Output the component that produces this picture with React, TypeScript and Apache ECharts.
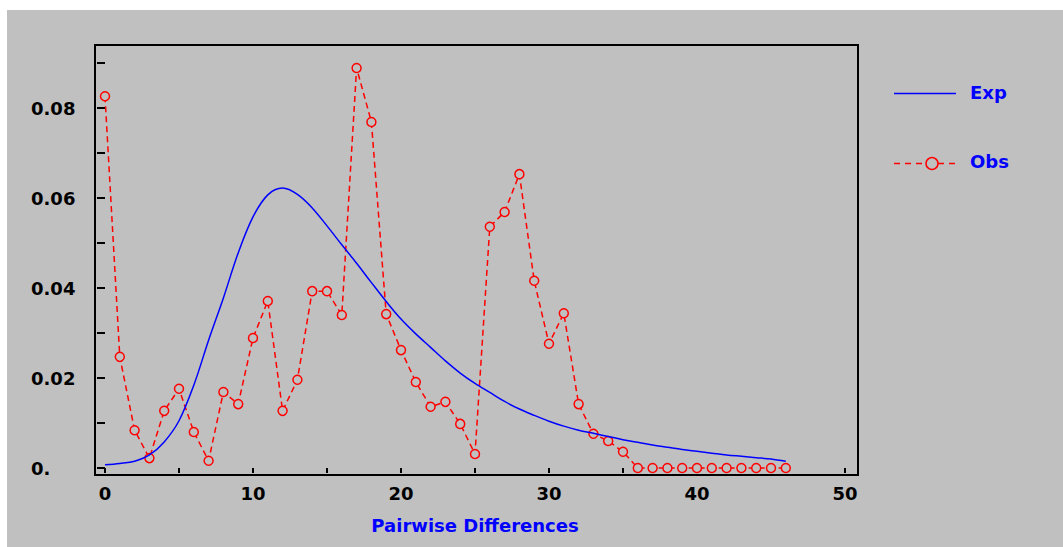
import React, { useEffect, useRef } from "react";
import * as echarts from "echarts";

const pairwiseDiffs = [
  0, 1, 2, 3, 4, 5, 6, 7, 8, 9, 10, 11, 12, 13, 14, 15, 16, 17, 18, 19, 20, 21, 22, 23,
  24, 25, 26, 27, 28, 29, 30, 31, 32, 33, 34, 35, 36, 37, 38, 39, 40, 41, 42, 43, 44, 45, 46,
];

const expValues = [
  0.0007, 0.001, 0.0015, 0.0029, 0.0058, 0.0105, 0.0184, 0.0284, 0.0378, 0.0478, 0.0558,
  0.0607, 0.0622, 0.0608, 0.0578, 0.0538, 0.0496, 0.0455, 0.0412, 0.037, 0.0331, 0.0298,
  0.0268, 0.0238, 0.0211, 0.0188, 0.0168, 0.0148, 0.0131, 0.0117, 0.0104, 0.0093, 0.0084,
  0.0077, 0.007, 0.0063, 0.0057, 0.0051, 0.0046, 0.0041, 0.0037, 0.0033, 0.0029, 0.0026,
  0.0023, 0.002, 0.0015,
];

const obsValues = [
  0.0826, 0.0247, 0.0084, 0.0022, 0.0127, 0.0176, 0.008, 0.0016, 0.0169, 0.0142, 0.0289,
  0.0371, 0.0127, 0.0196, 0.0393, 0.0393, 0.034, 0.0889, 0.0769, 0.0342, 0.0262, 0.0191,
  0.0136, 0.0147, 0.0098, 0.0031, 0.0536, 0.0569, 0.0653, 0.0416, 0.0276, 0.0344, 0.0142,
  0.0076, 0.006, 0.0036, 0, 0, 0, 0, 0, 0, 0, 0, 0, 0, 0,
];

const xAxisLabels = ["0", "10", "20", "30", "40", "50"];
const yAxisLabels = ["0.", "0.02", "0.04", "0.06", "0.08"];

const FONT = "DejaVu Sans";

export default function App() {
  const ref = useRef<HTMLDivElement>(null);

  useEffect(() => {
    if (!ref.current) return;
    const chart = echarts.init(ref.current, null, { renderer: "svg" });

    const expData = pairwiseDiffs.map((x, i) => [x, expValues[i]]);
    const obsData = pairwiseDiffs.map((x, i) => [x, obsValues[i]]);

    chart.setOption({
      animation: false,
      backgroundColor: "transparent",
      grid: { left: 105, right: 218, top: 63, bottom: 79, containLabel: false },
      xAxis: {
        type: "value",
        min: 0,
        max: 50,
        interval: 5,
        offset: 7,
        axisLine: { show: false },
        axisTick: { show: true, length: 5, lineStyle: { color: "#000", width: 2 } },
        splitLine: { show: false },
        axisLabel: {
          margin: 9,
          color: "#000",
          fontFamily: FONT,
          fontWeight: "bold",
          fontSize: 18,
          formatter: (v: number) => {
            const idx = xAxisLabels.indexOf(String(Math.round(v)));
            return Math.round(v) % 10 === 0 && idx >= 0 ? xAxisLabels[idx] : "";
          },
        },
        name: "Pairwise Differences",
        nameLocation: "middle",
        nameGap: 41,
        nameTextStyle: { color: "#0000ff", fontFamily: FONT, fontWeight: "bold", fontSize: 18 },
      },
      yAxis: {
        type: "value",
        min: 0,
        max: 0.09,
        interval: 0.01,
        offset: 10,
        axisLine: { show: false },
        axisTick: { show: true, length: 8, lineStyle: { color: "#000", width: 2 } },
        splitLine: { show: false },
        axisLabel: {
          margin: 64,
          align: "left",
          color: "#000",
          fontFamily: FONT,
          fontWeight: "bold",
          fontSize: 18,
          formatter: (v: number) => {
            const n = Math.round(v * 100);
            if (n % 2 !== 0) return "";
            return yAxisLabels[n / 2] ?? "";
          },
        },
      },
      graphic: [
        {
          type: "rect",
          shape: { x: 95, y: 45, width: 763, height: 430 },
          style: { fill: "none", stroke: "#000", lineWidth: 2 },
          silent: true,
        },
        {
          type: "line",
          shape: { x1: 894, y1: 93.5, x2: 956, y2: 93.5 },
          style: { stroke: "#0000ff", lineWidth: 1.5 },
        },
        {
          type: "text",
          x: 970,
          y: 92,
          style: {
            text: "Exp",
            fill: "#0000ff",
            font: `bold 18px "${FONT}"`,
            verticalAlign: "middle",
            align: "left",
          },
        },
        {
          type: "line",
          shape: { x1: 894, y1: 163.5, x2: 956, y2: 163.5 },
          style: { stroke: "#ff0000", lineWidth: 1.5, lineDash: [6, 5] },
        },
        {
          type: "circle",
          shape: { cx: 932, cy: 163.5, r: 6 },
          style: { fill: "#c0c0c0", stroke: "#ff0000", lineWidth: 1.5 },
        },
        {
          type: "text",
          x: 970,
          y: 161,
          style: {
            text: "Obs",
            fill: "#0000ff",
            font: `bold 18px "${FONT}"`,
            verticalAlign: "middle",
            align: "left",
          },
        },
      ],
      series: [
        {
          name: "Obs",
          type: "line",
          data: obsData,
          clip: false,
          symbol: "circle",
          symbolSize: 9,
          lineStyle: { color: "#ff0000", width: 1.5, type: [6, 4] },
          itemStyle: { color: "#c0c0c0", borderColor: "#ff0000", borderWidth: 1.5 },
          z: 2,
        },
        {
          name: "Exp",
          type: "line",
          data: expData,
          clip: false,
          symbol: "none",
          smooth: 0.35,
          lineStyle: { color: "#0000ff", width: 1.5 },
          z: 3,
        },
      ],
    });

    return () => chart.dispose();
  }, []);

  return (
    <div style={{ position: "absolute", left: 0, top: 0, width: 1063, height: 547, background: "#fff" }}>
      <div
        style={{ position: "absolute", left: 7, top: 10, width: 1056, height: 537, background: "#c0c0c0" }}
      />
      <div ref={ref} style={{ position: "absolute", left: 0, top: 0, width: 1063, height: 547 }} />
    </div>
  );
}
